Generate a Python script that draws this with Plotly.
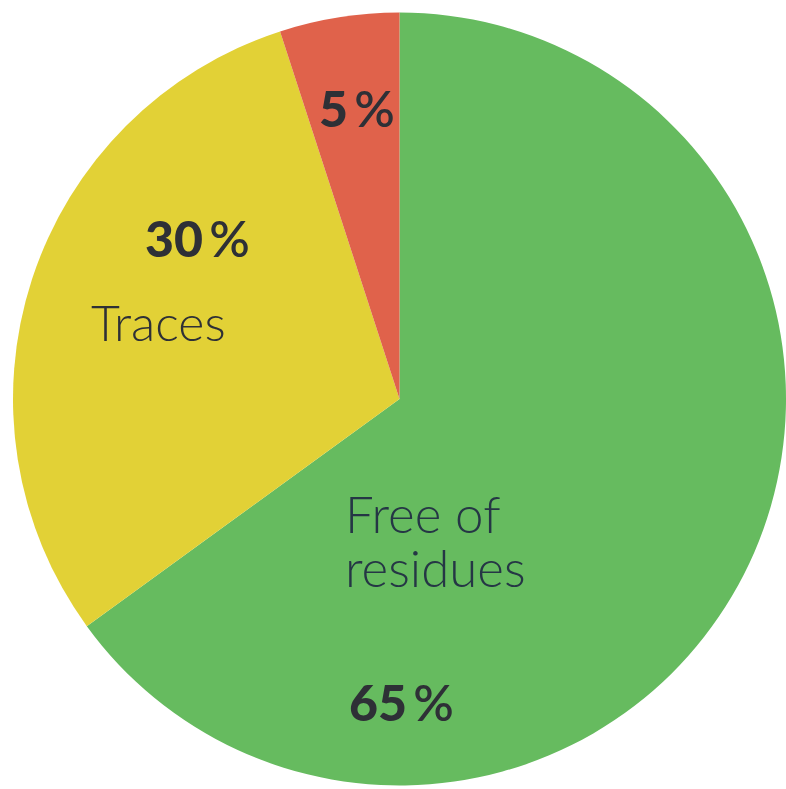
import plotly.graph_objects as go

# Share of samples by residue finding
categories = ["Free of residues", "Traces", "Residues"]
shares = [65, 30, 5]
colors = ["#66BB5F", "#E2D136", "#E0624B"]
pct_labels = ["65", "30", "5"]

W, H = 786, 789

fig = go.Figure(
    go.Pie(
        labels=categories,
        values=shares,
        sort=False,
        direction="clockwise",
        rotation=0,
        marker=dict(colors=colors, line=dict(width=0)),
        textinfo="none",
        hoverinfo="skip",
        showlegend=False,
        domain=dict(x=[13 / W, 1.0], y=[1 / H, 1 - 10 / H]),
    )
)

TEXT = "#2E3036"
LABEL_FONT = "Lato"


def px(x, y):
    return x / W, 1 - y / H


annotations = []
# percentage labels (heavy digits, lighter percent sign)
pct_pos = [(402, 702), (197, 238), (357, 108)]
for lab, (x, y) in zip(pct_labels, pct_pos):
    ax, ay = px(x, y)
    annotations.append(dict(
        x=ax, y=ay, xref="paper", yref="paper", showarrow=False,
        text=f"<span style='font-weight:900'>{lab}</span>\u2009%",
        xanchor="center", yanchor="middle",
        font=dict(family=LABEL_FONT, size=50, color=TEXT, weight=600),
    ))

# category names
ax, ay = px(89, 322)
annotations.append(dict(
    x=ax, y=ay, xref="paper", yref="paper", showarrow=False,
    text="Traces", xanchor="left", yanchor="middle",
    font=dict(family=LABEL_FONT, size=50, color=TEXT, weight=300),
))
for line, y in [("Free of", 513), ("residues", 567)]:
    ax, ay = px(343, y)
    annotations.append(dict(
        x=ax, y=ay, xref="paper", yref="paper", showarrow=False,
        text=line, xanchor="left", yanchor="middle", align="left",
        font=dict(family=LABEL_FONT, size=51, color="#253645", weight=300),
    ))

fig.update_layout(
    width=W, height=H,
    margin=dict(l=0, r=0, t=0, b=0),
    paper_bgcolor="white", plot_bgcolor="white",
    annotations=annotations,
)

fig.write_html("out.html", config=dict(displayModeBar=False))
